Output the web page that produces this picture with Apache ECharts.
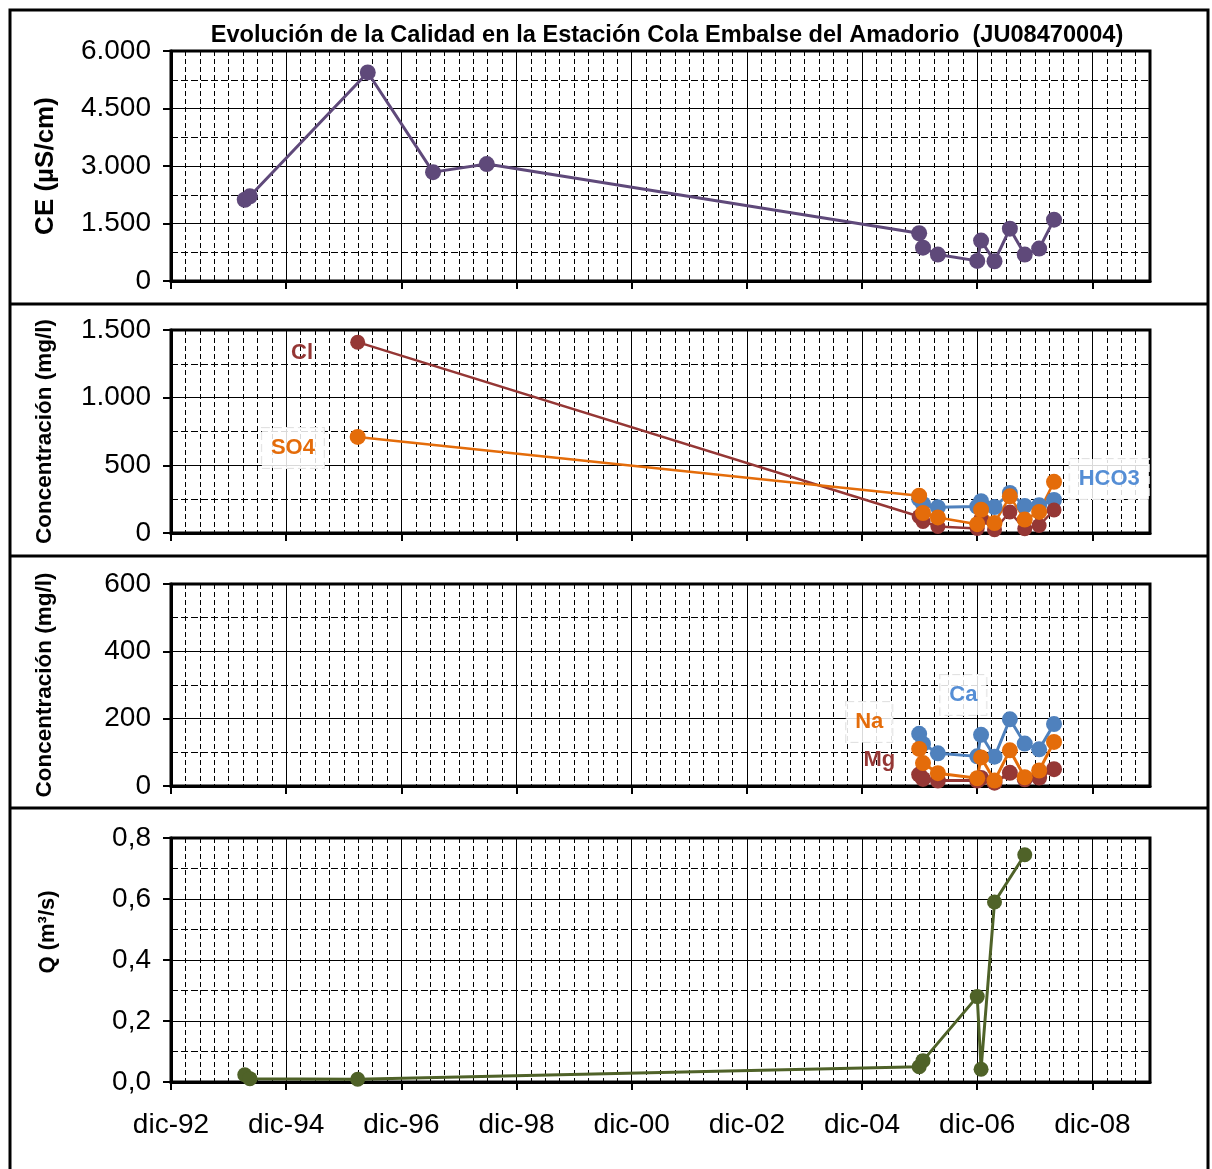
<!DOCTYPE html>
<html>
<head>
<meta charset="utf-8">
<script src="https://cdn.jsdelivr.net/npm/echarts@6/dist/echarts.min.js"></script>
<style>
  html, body { margin: 0; padding: 0; background: #fff; }
  #chart { width: 1212px; height: 1169px; }
</style>
</head>
<body>
<div id="chart"></div>
<script>
// sampling dates and values
const ceDates = ['1994-03-12', '1994-04-14', '1996-05-01', '1997-06-19', '1998-05-25',
  '2005-11-28', '2005-12-22', '2006-03-25', '2006-12-01', '2006-12-25',
  '2007-03-19', '2007-06-25', '2007-09-28', '2007-12-28', '2008-04-01']
const ceValues = [2120, 2210, 5440, 2840, 3050, 1245, 870, 690, 525, 1055, 515, 1365, 690, 845, 1600]

const clSo4Dates = ['1996-02-28', '2005-11-28', '2005-12-22', '2006-03-25', '2006-12-01', '2006-12-25',
  '2007-03-19', '2007-06-25', '2007-09-28', '2007-12-28', '2008-04-01']
const clValues = [1410, 122, 85, 48, 33, 105, 24, 155, 31, 55, 170]
const so4Values = [710, 276, 148, 115, 65, 172, 73, 271, 99, 156, 378]

const ionDates = ['2005-11-28', '2005-12-22', '2006-03-25', '2006-12-01', '2006-12-25',
  '2007-03-19', '2007-06-25', '2007-09-28', '2007-12-28', '2008-04-01']
const hco3Values = [250, 215, 190, 195, 235, 192, 296, 200, 205, 244]
const caValues = [155, 125, 97, 88, 152, 87, 198, 126, 109, 184]
const naValues = [110, 68, 38, 23, 85, 16, 106, 26, 46, 131]
const mgValues = [34, 21, 16, 16, 24, 10, 39, 20, 25, 50]

const qDates = ['1994-03-12', '1994-04-14', '1996-02-28', '2005-11-28', '2005-12-22',
  '2006-12-01', '2006-12-25', '2007-03-19', '2007-09-28']
const qValues = [0.024, 0.011, 0.009, 0.050, 0.070, 0.280, 0.042, 0.590, 0.745]

const xTickLabels = ['dic-92', 'dic-94', 'dic-96', 'dic-98', 'dic-00', 'dic-02', 'dic-04', 'dic-06', 'dic-08']

const FONT = 'Liberation Sans, Arial, sans-serif'

// x axis is months counted from dic-92
function monthIndex(d) {
  const [y, m, day] = d.split('-').map(Number)
  return (y - 1992) * 12 + (m - 12) + (day - 1) / 30
}
function pairs(dates, vals) {
  return dates.map((d, i) => [monthIndex(d), vals[i]])
}
const xTickVals = xTickLabels.map((_, i) => i * 24)

function thousands(v) {
  return String(v).replace(/\B(?=(\d{3})+(?!\d))/g, '.')
}

const gridTops = [51, 330, 584, 838]
const gridHeights = [230, 203, 202, 244]

const grids = gridTops.map((t, i) => ({
  left: 171, right: 62, top: t, height: gridHeights[i],
  show: true, borderColor: '#000', borderWidth: 3, backgroundColor: 'transparent'
}))

const xAxes = []
gridTops.forEach((_, i) => {
  xAxes.push({
    gridIndex: i, type: 'value', min: 0, max: 204, interval: 24, position: 'bottom',
    axisLine: { show: true, onZero: false, lineStyle: { color: '#000', width: 3 } },
    axisTick: { show: true, length: 8, customValues: xTickVals, lineStyle: { color: '#000', width: 2 } },
    axisLabel: {
      show: i === 3, customValues: xTickVals, margin: 29,
      formatter: v => xTickLabels[Math.round(v / 24)] || '',
      fontSize: 28, color: '#000', fontFamily: FONT
    },
    splitLine: { show: true, lineStyle: { color: '#000', width: 1 } }
  })
  // quarter-year dashed grid
  xAxes.push({
    gridIndex: i, type: 'value', min: 0, max: 204, interval: 3, position: 'bottom',
    axisLine: { show: false }, axisTick: { show: false }, axisLabel: { show: false },
    splitLine: { show: true, lineStyle: { color: '#000', width: 1, type: [5, 3] } }
  })
})

function yAxis(i, max, interval, name, nameSize, nameGap, fmt, namePad) {
  return {
    gridIndex: i, type: 'value', min: 0, max: max, interval: interval,
    name: name, nameLocation: 'middle', nameGap: nameGap,
    nameTextStyle: { fontSize: nameSize, fontWeight: 'bold', color: '#000', fontFamily: FONT, padding: namePad || 0 },
    axisLine: { show: true, lineStyle: { color: '#000', width: 3 } },
    axisTick: { show: true, length: 8, lineStyle: { color: '#000', width: 2 } },
    axisLabel: { margin: 20, fontSize: 28, color: '#000', fontFamily: FONT, formatter: fmt },
    splitLine: { show: true, lineStyle: { color: '#000', width: 1 } },
    minorTick: { show: false, splitNumber: 2 },
    minorSplitLine: { show: true, lineStyle: { color: '#000', width: 1, type: [7, 3] } }
  }
}

const yAxes = [
  yAxis(0, 6000, 1500, 'CE (µS/cm)', 26, 112, thousands),
  yAxis(1, 1500, 500, 'Concentración (mg/l)', 22.5, 115, thousands),
  yAxis(2, 600, 200, 'Concentración (mg/l)', 22.5, 115, thousands),
  yAxis(3, 0.8, 0.2, 'Q (m³/s)', 22, 112, v => v.toFixed(1).replace('.', ','), [0, 0, 0, 56])
]

function tag(text, color, coord, boxed) {
  return {
    symbol: 'rect', symbolSize: 1, silent: true,
    itemStyle: { color: 'rgba(0,0,0,0)' },
    label: {
      show: true, position: 'inside', formatter: text,
      color: color, fontSize: 22, fontWeight: 'bold', fontFamily: FONT,
      backgroundColor: boxed ? 'rgba(255,255,255,0.85)' : 'transparent',
      borderColor: boxed ? '#e2e2e2' : 'transparent', borderWidth: 1, borderType: 'dashed',
      padding: boxed ? [9, 9] : 0
    },
    data: [{ coord: coord }]
  }
}

function line(name, color, data, gi, size, width, markPoint) {
  const s = {
    name: name, type: 'line', xAxisIndex: gi * 2, yAxisIndex: gi, data: data,
    symbol: 'circle', symbolSize: size, showSymbol: true,
    lineStyle: { color: color, width: width },
    itemStyle: { color: color }
  }
  if (markPoint) s.markPoint = markPoint
  return s
}

const series = [
  line('CE', '#5F497A', pairs(ceDates, ceValues), 0, 16, 3),
  line('HCO3', '#4F81BD', pairs(ionDates, hco3Values), 1, 16, 3, tag('HCO3', '#558ED5', [195.5, 399], true)),
  line('Cl', '#953735', pairs(clSo4Dates, clValues), 1, 15, 2.5, tag('Cl', '#953735', [27.3, 1330], false)),
  line('SO4', '#E46C0A', pairs(clSo4Dates, so4Values), 1, 16, 2.5, tag('SO4', '#E46C0A', [25.4, 628], true)),
  line('Ca', '#4F81BD', pairs(ionDates, caValues), 2, 16, 3, tag('Ca', '#558ED5', [165.1, 270], true)),
  line('Mg', '#953735', pairs(ionDates, mgValues), 2, 16, 3, tag('Mg', '#953735', [147.6, 77], false)),
  line('Na', '#E46C0A', pairs(ionDates, naValues), 2, 16, 3, tag('Na', '#E46C0A', [145.5, 190], true)),
  line('Q', '#4F6228', pairs(qDates, qValues), 3, 15, 3)
]

const chart = echarts.init(document.getElementById('chart'))
chart.setOption({
  animation: false,
  backgroundColor: '#fff',
  title: {
    text: 'Evolución de la Calidad en la Estación Cola Embalse del Amadorio  (JU08470004)',
    left: 662, top: 18, textAlign: 'center',
    textStyle: { fontSize: 23.6, fontWeight: 'bold', color: '#000', fontFamily: FONT }
  },
  grid: grids,
  xAxis: xAxes,
  yAxis: yAxes,
  series: series,
  graphic: [
    { type: 'rect', shape: { x: 10, y: 10, width: 1198, height: 1200 }, style: { fill: 'none', stroke: '#000', lineWidth: 3 } },
    { type: 'line', shape: { x1: 10, y1: 304, x2: 1208, y2: 304 }, style: { stroke: '#000', lineWidth: 3 } },
    { type: 'line', shape: { x1: 10, y1: 556, x2: 1208, y2: 556 }, style: { stroke: '#000', lineWidth: 3 } },
    { type: 'line', shape: { x1: 10, y1: 808, x2: 1208, y2: 808 }, style: { stroke: '#000', lineWidth: 3 } }
  ]
})
</script>
</body>
</html>
